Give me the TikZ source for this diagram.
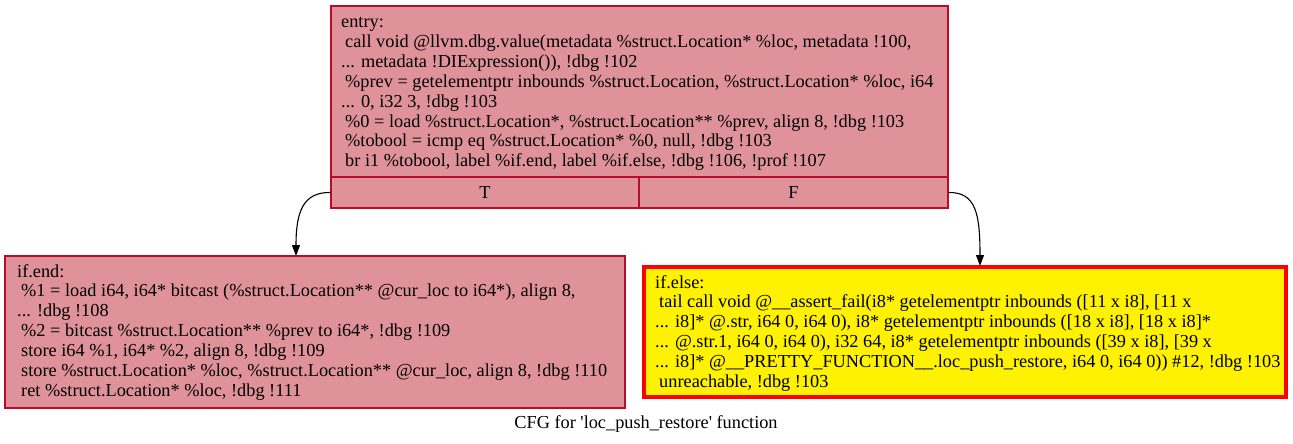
\documentclass[tikz,border=0pt]{standalone}
\usepackage{fontspec}
\setmainfont{Liberation Serif}
\usetikzlibrary{arrows.meta}
\definecolor{blkfill}{HTML}{E0929B}
\definecolor{blkline}{HTML}{B70D28}
\newcommand{\lind}{\hspace*{0.22em}}
\tikzset{
  blk/.style={draw=blkline, fill=blkfill, line width=1.2pt, inner sep=0pt, rectangle},
  hotblk/.style={draw=red, fill=yellow, line width=3.2pt, inner sep=0pt, rectangle},
  code/.style={anchor=north west, align=left, inner sep=0pt, font=\fontsize{18.3}{19.9}\selectfont},
  cell/.style={draw=blkline, fill=blkfill, line width=1.2pt, inner sep=0pt, rectangle, font=\fontsize{18.3}{19.9}\selectfont},
  edge/.style={line width=1.1pt, -{Triangle[length=11pt,width=8pt]}},
}
\begin{document}
\begin{tikzpicture}[x=1pt,y=1pt]
\useasboundingbox (0,0) rectangle (1293,-444);
% entry block
\node[blk, minimum width=617pt, minimum height=171pt] (entry) at (639.5,-91.5) {};
\node[cell, minimum width=308pt, minimum height=31pt] (tcell) at (485,-192.5) {T};
\node[cell, minimum width=309pt, minimum height=31pt] (fcell) at (793.5,-192.5) {F};
\node[code] (entrytxt) at (341,-17) {entry:\\
\lind call void @llvm.dbg.value(metadata \%struct.Location* \%loc, metadata !100,\\
... metadata !DIExpression()), !dbg !102\\
\lind\%prev = getelementptr inbounds \%struct.Location, \%struct.Location* \%loc, i64\\
... 0, i32 3, !dbg !103\\
\lind\%0 = load \%struct.Location*, \%struct.Location** \%prev, align 8, !dbg !103\\
\lind\%tobool = icmp eq \%struct.Location* \%0, null, !dbg !103\\
\lind br i1 \%tobool, label \%if.end, label \%if.else, !dbg !106, !prof !107};
% if.end block
\node[blk, minimum width=620pt, minimum height=152pt] (ifend) at (315,-332) {};
\node[code] (ifendtxt) at (17,-264) {if.end:\\
\lind\%1 = load i64, i64* bitcast (\%struct.Location** @cur\_loc to i64*), align 8,\\
... !dbg !108\\
\lind\%2 = bitcast \%struct.Location** \%prev to i64*, !dbg !109\\
\lind store i64 \%1, i64* \%2, align 8, !dbg !109\\
\lind store \%struct.Location* \%loc, \%struct.Location** @cur\_loc, align 8, !dbg !110\\
\lind ret \%struct.Location* \%loc, !dbg !111};
% if.else block
\node[hotblk, minimum width=642pt, minimum height=130pt] (ifelse) at (965,-332) {};
\node[code] (ifelsetxt) at (655,-275) {if.else:\\
\lind tail call void @\_\_assert\_fail(i8* getelementptr inbounds ([11 x i8], [11 x\\
... i8]* @.str, i64 0, i64 0), i8* getelementptr inbounds ([18 x i8], [18 x i8]*\\
... @.str.1, i64 0, i64 0), i32 64, i8* getelementptr inbounds ([39 x i8], [39 x\\
... i8]* @\_\_PRETTY\_FUNCTION\_\_.loc\_push\_restore, i64 0, i64 0)) \#12, !dbg !103\\
\lind unreachable, !dbg !103};
% edges
\coordinate (tin) at (296,-256);
\coordinate (fin) at (980,-266);
\draw[edge] (tcell.west) .. controls (303,-192) and (296,-212) .. (tin);
\draw[edge] (fcell.east) .. controls (976,-192) and (980,-214) .. (fin);
% caption
\node[font=\fontsize{18.3}{19.9}\selectfont] (caption) at (646,-424) {CFG for \textquotesingle loc\_push\_restore\textquotesingle{} function};
\end{tikzpicture}
\end{document}
